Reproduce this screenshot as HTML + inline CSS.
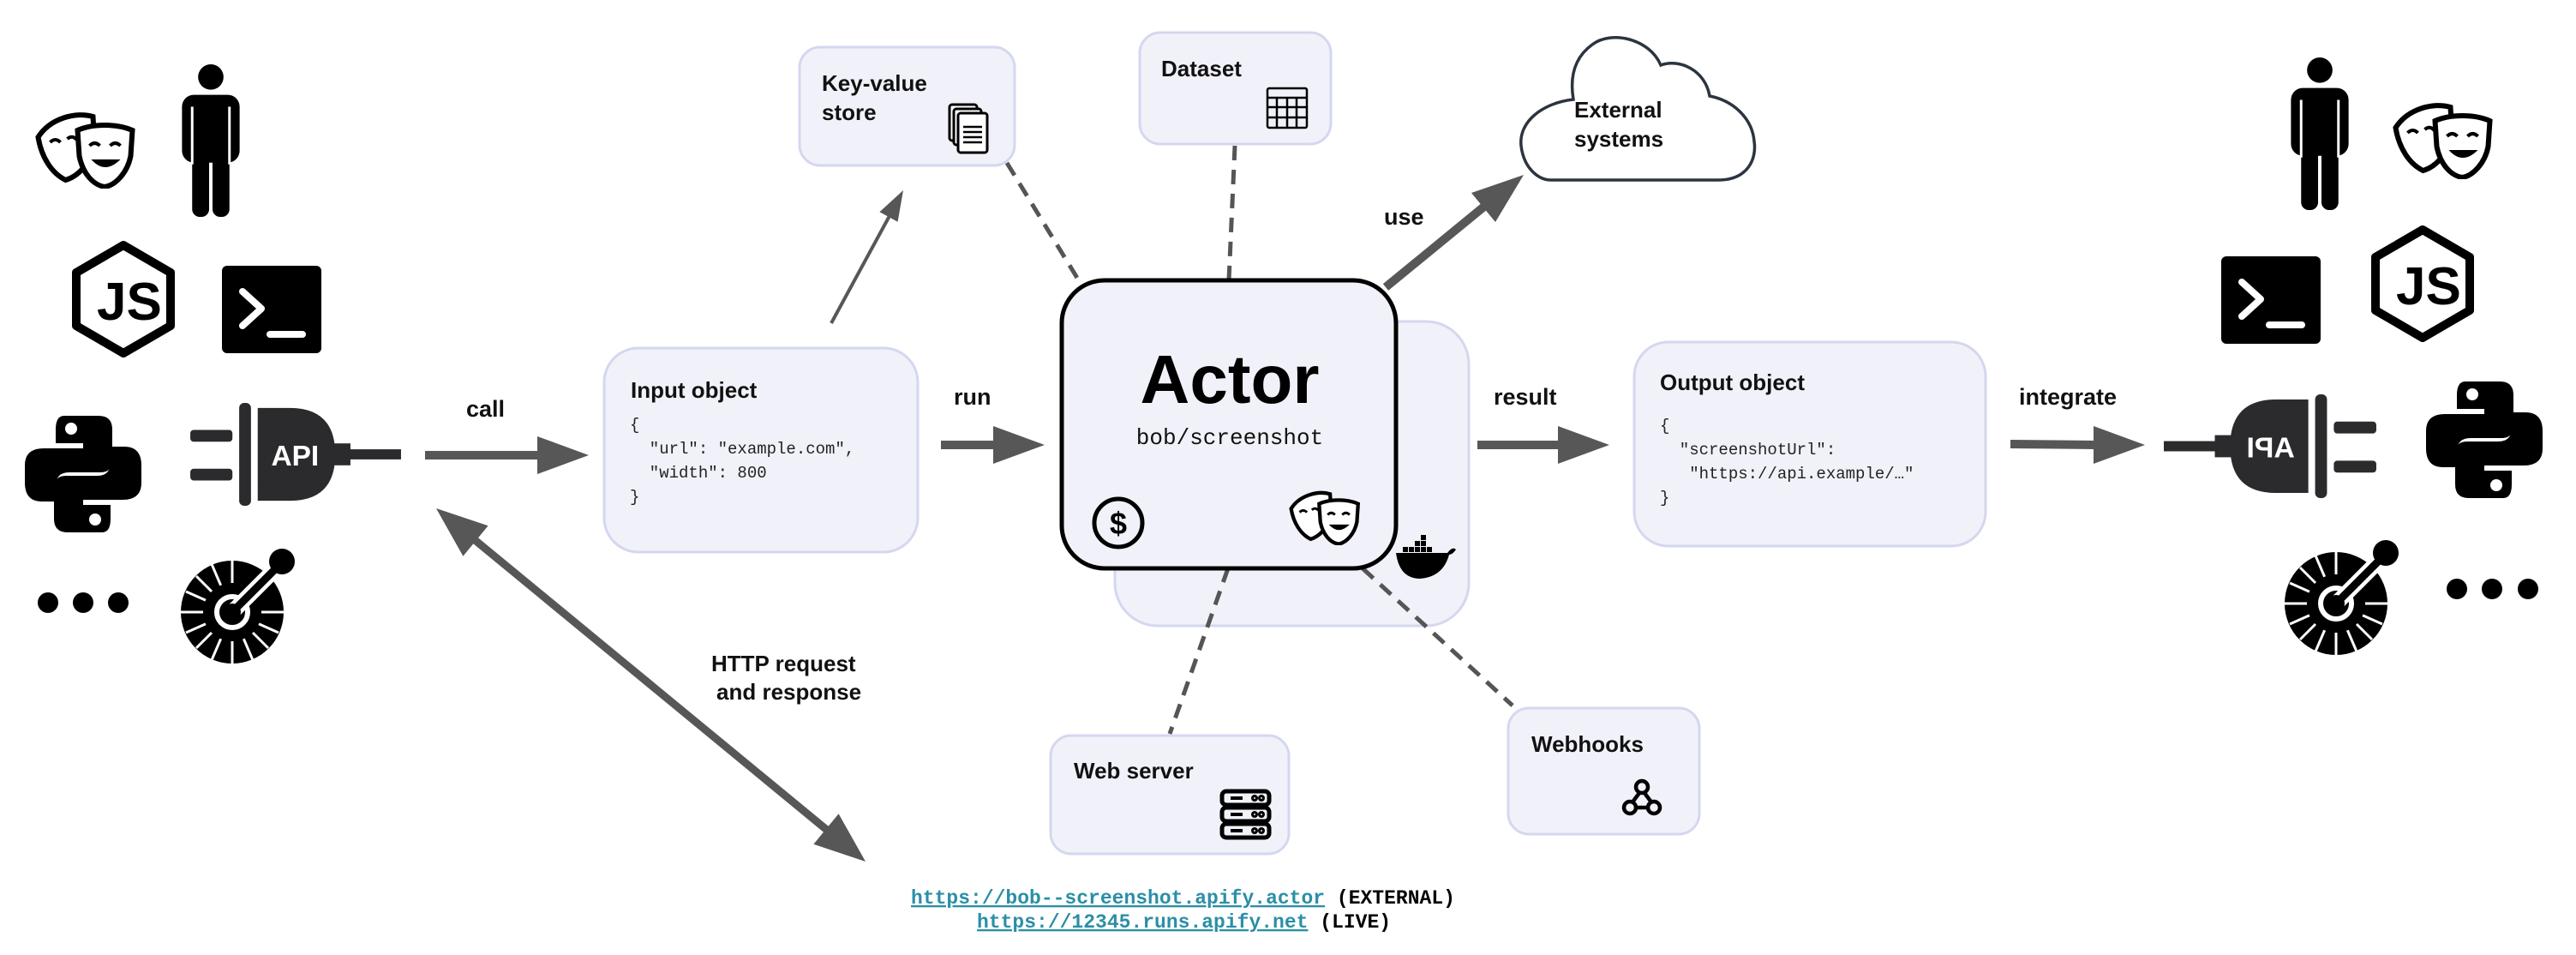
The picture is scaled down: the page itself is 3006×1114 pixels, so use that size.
<!DOCTYPE html>
<html><head><meta charset="utf-8"><style>
html,body{margin:0;padding:0;background:#fff;}
svg{display:block;}
text{font-family:"Liberation Sans",sans-serif;}
.t{font-weight:bold;font-size:27px;fill:#111;}
.c{font-family:"Liberation Mono",monospace;font-size:19px;fill:#222;}
.box{fill:#f1f2f9;stroke:#d4d7ef;stroke-width:3;}
.dash{stroke:#555;stroke-width:5;stroke-dasharray:17 11;fill:none;}
</style></head><body>
<svg width="3006" height="1114" viewBox="0 0 3006 1114" xmlns="http://www.w3.org/2000/svg">
<defs>
<symbol id="masks" viewBox="0 0 120 90">
 <path d="M6,30 C20,8 50,0 70,6 L72,40 C66,62 52,76 38,80 C22,72 10,54 6,30Z" fill="#fff" stroke="#000" stroke-width="6"/>
 <path d="M20,36 q6,-6 12,0 M40,32 q6,-5 11,1" stroke="#000" stroke-width="4" fill="none"/>
 <path d="M52,22 C70,14 98,14 116,22 L114,52 C110,72 96,86 84,88 C70,86 58,72 54,52Z" fill="#fff" stroke="#000" stroke-width="6"/>
 <path d="M66,40 q6,-6 12,0 M90,40 q6,-6 12,0" stroke="#000" stroke-width="4" fill="none"/>
 <path d="M68,56 Q84,74 102,56 Z" fill="#000"/>
</symbol>
<symbol id="person" viewBox="0 0 72 180">
 <circle cx="36" cy="15" r="15" fill="#000"/>
 <rect x="2" y="36" width="68" height="80" rx="14" fill="#000"/>
 <rect x="14" y="70" width="20" height="110" rx="9" fill="#000"/>
 <rect x="38" y="70" width="20" height="110" rx="9" fill="#000"/>
 <path d="M14,50 V118 M58,50 V118 M36,120 V175" stroke="#fff" stroke-width="3"/>
</symbol>
<symbol id="js" viewBox="0 0 122 136">
 <polygon points="61,5 116,37 116,99 61,131 6,99 6,37" fill="none" stroke="#000" stroke-width="10" stroke-linejoin="round"/>
 <text x="30" y="92" style="font-weight:bold;font-size:62px;fill:#000">JS</text>
</symbol>
<symbol id="term" viewBox="0 0 116 102">
 <rect x="0" y="0" width="116" height="102" rx="6" fill="#000"/>
 <polyline points="24,30 46,50 24,70" fill="none" stroke="#fff" stroke-width="8" stroke-linecap="round" stroke-linejoin="round"/>
 <line x1="56" y1="80" x2="94" y2="80" stroke="#fff" stroke-width="8" stroke-linecap="round"/>
</symbol>
<symbol id="py" viewBox="0 0 136 136">
 <g id="pyh">
 <path d="M46,0 H86 Q102,0 102,16 V52 Q102,66 88,66 H52 Q36,66 36,82 V100 H20 Q0,100 0,78 V58 Q0,38 22,38 H68 V32 H36 V16 Q36,0 46,0Z" fill="#000"/>
 <circle cx="54" cy="15" r="7" fill="#fff"/>
 </g>
 <use href="#pyh" transform="rotate(180 68 68)"/>
</symbol>
<symbol id="plug" viewBox="0 0 250 122">
 <rect x="0" y="32" width="50" height="14" rx="4" fill="#2b2b2e"/>
 <rect x="0" y="78" width="50" height="14" rx="4" fill="#2b2b2e"/>
 <rect x="58" y="0" width="14" height="122" rx="6" fill="#2b2b2e"/>
 <path d="M80,6 H118 Q172,6 172,61 Q172,116 118,116 H80Z" fill="#2b2b2e"/>
 <rect x="170" y="48" width="20" height="26" fill="#2b2b2e"/>
 <rect x="188" y="55" width="62" height="12" fill="#2b2b2e"/>
 <text x="96" y="74" style="font-weight:bold;font-size:34px;fill:#fff">API</text>
</symbol>
<symbol id="oapi" viewBox="0 0 140 140">
 <circle cx="62" cy="80" r="60" fill="#000"/>
 <g stroke="#fff" stroke-width="3">
  <line x1="62" y1="80" x2="62" y2="18"/><line x1="62" y1="80" x2="2" y2="80"/><line x1="62" y1="80" x2="62" y2="142"/><line x1="62" y1="80" x2="122" y2="80"/>
  <line x1="62" y1="80" x2="20" y2="38"/><line x1="62" y1="80" x2="20" y2="122"/><line x1="62" y1="80" x2="104" y2="122"/>
  <line x1="62" y1="80" x2="38" y2="24"/><line x1="62" y1="80" x2="8" y2="56"/><line x1="62" y1="80" x2="8" y2="104"/><line x1="62" y1="80" x2="38" y2="136"/><line x1="62" y1="80" x2="86" y2="136"/><line x1="62" y1="80" x2="116" y2="104"/>
 </g>
 <circle cx="62" cy="80" r="34" fill="#000"/>
 <circle cx="62" cy="80" r="18" fill="#000" stroke="#fff" stroke-width="6"/>
 <line x1="62" y1="80" x2="118" y2="24" stroke="#fff" stroke-width="18"/>
 <line x1="62" y1="80" x2="118" y2="24" stroke="#000" stroke-width="9"/>
 <circle cx="62" cy="80" r="10" fill="#000"/>
 <circle cx="120" cy="21" r="15" fill="#000"/>
</symbol>
</defs>

<!-- left icons -->
<use href="#masks" x="38" y="130" width="121" height="90"/>
<use href="#person" x="210" y="75" width="72" height="178"/>
<use href="#js" x="83" y="281" width="122" height="136"/>
<use href="#term" x="259" y="310" width="116" height="102"/>
<use href="#py" x="29" y="485" width="136" height="136"/>
<use href="#plug" x="220" y="470" width="250" height="120"/>
<circle cx="56" cy="703" r="12"/><circle cx="97" cy="703" r="12"/><circle cx="138" cy="703" r="12"/>
<use href="#oapi" x="209" y="634" width="140" height="140"/>

<!-- right icons -->
<use href="#person" x="2671" y="67" width="72" height="178"/>
<use href="#masks" x="2789" y="119" width="121" height="90"/>
<use href="#term" x="2592" y="299" width="116" height="102"/>
<use href="#js" x="2766" y="263" width="122" height="136"/>
<g transform="translate(2774,460) scale(-1,1)"><use href="#plug" x="0" y="0" width="250" height="121"/></g>
<use href="#py" x="2831" y="445" width="136" height="136"/>
<use href="#oapi" x="2664" y="624" width="140" height="140"/>
<circle cx="2867" cy="687" r="12"/><circle cx="2908" cy="687" r="12"/><circle cx="2950" cy="687" r="12"/>

<!-- boxes -->
<rect class="box" x="933" y="55" width="251" height="138" rx="24"/>
<text class="t" x="959" y="106" style="font-size:26px">Key-value</text>
<text class="t" x="959" y="140" style="font-size:26px">store</text>
<g transform="translate(1108,122)" fill="#fff" stroke="#000" stroke-width="3">
 <rect x="0" y="0" width="32" height="42" rx="3"/><rect x="5" y="5" width="32" height="42" rx="3"/><rect x="10" y="10" width="34" height="46" rx="3"/>
 <path d="M16,26 H38 M16,32 H38 M16,38 H38 M16,44 H38" stroke-width="2.5"/>
</g>

<rect class="box" x="1330" y="38" width="223" height="130" rx="24"/>
<text class="t" x="1355" y="89" style="font-size:26px">Dataset</text>
<g transform="translate(1479,103)" fill="none" stroke="#000" stroke-width="2.5">
 <rect x="0" y="0" width="46" height="46" rx="2"/>
 <path d="M0,11 H46 M0,22 H46 M0,34 H46 M11,11 V46 M23,11 V46 M34,11 V46"/>
</g>

<path d="M1810,210 L2005,210 C2040,210 2050,185 2047,165 C2045,140 2025,118 1995,112 C1990,82 1960,68 1938,76 C1925,45 1880,35 1858,52 C1836,68 1832,92 1836,116 C1800,120 1772,142 1775,170 C1778,196 1795,210 1810,210 Z" fill="#fff" stroke="#2c3440" stroke-width="3.5"/>
<text class="t" x="1837" y="137" style="font-size:26px">External</text>
<text class="t" x="1837" y="171" style="font-size:26px">systems</text>

<rect class="box" x="705" y="406" width="366" height="238" rx="40"/>
<text class="t" x="736" y="464" style="font-size:26px">Input object</text>
<text class="c" x="735" y="501">{</text>
<text class="c" x="735" y="529" xml:space="preserve">  "url": "example.com",</text>
<text class="c" x="735" y="557" xml:space="preserve">  "width": 800</text>
<text class="c" x="735" y="585">}</text>

<rect class="box" x="1301" y="375" width="413" height="355" rx="50"/>

<!-- dashed connectors -->
<line class="dash" x1="1175" y1="190" x2="1263" y2="334"/>
<line class="dash" x1="1441" y1="170" x2="1434" y2="327"/>
<line class="dash" x1="1433" y1="663" x2="1365" y2="856"/>
<line class="dash" x1="1590" y1="663" x2="1765" y2="823"/>

<rect x="1239" y="327" width="390" height="336" rx="50" fill="#f1f2f9" stroke="#000" stroke-width="5"/>
<text x="1435" y="470" text-anchor="middle" style="font-weight:bold;font-size:80px;fill:#000">Actor</text>
<text x="1435" y="518" text-anchor="middle" style="font-family:'Liberation Mono',monospace;font-size:26px;fill:#111">bob/screenshot</text>
<circle cx="1305" cy="610" r="28" fill="none" stroke="#000" stroke-width="5"/>
<text x="1305" y="623" text-anchor="middle" style="font-weight:bold;font-size:36px;fill:#000">$</text>
<use href="#masks" x="1502" y="572" width="86" height="64"/>
<g transform="translate(1629,625)" fill="#000">
 <path d="M0,20 H60 Q66,12 70,16 Q66,22 62,22 Q55,48 28,50 Q4,50 0,20Z"/>
 <rect x="8" y="13" width="6" height="6"/><rect x="15" y="13" width="6" height="6"/><rect x="22" y="13" width="6" height="6"/><rect x="29" y="13" width="6" height="6"/><rect x="36" y="13" width="6" height="6"/>
 <rect x="22" y="6" width="6" height="6"/><rect x="29" y="6" width="6" height="6"/><rect x="29" y="-1" width="6" height="6"/>
</g>

<rect class="box" x="1907" y="399" width="410" height="238" rx="40"/>
<text class="t" x="1937" y="455" style="font-size:26px">Output object</text>
<text class="c" x="1937" y="502">{</text>
<text class="c" x="1937" y="530" xml:space="preserve">  "screenshotUrl":</text>
<text class="c" x="1937" y="558" xml:space="preserve">   "https://api.example/…"</text>
<text class="c" x="1937" y="586">}</text>

<rect class="box" x="1226" y="858" width="278" height="138" rx="24"/>
<text class="t" x="1253" y="908" style="font-size:26px">Web server</text>
<g transform="translate(1424,921)" fill="none" stroke="#000" stroke-width="5">
 <rect x="2" y="2" width="55" height="16" rx="5"/><rect x="2" y="21" width="55" height="16" rx="5"/><rect x="2" y="40" width="55" height="16" rx="5"/>
 <path d="M12,10 H26 M12,29 H26 M12,48 H26" stroke-width="4"/>
 <circle cx="40" cy="10" r="1.5"/><circle cx="48" cy="10" r="1.5"/><circle cx="40" cy="29" r="1.5"/><circle cx="48" cy="29" r="1.5"/><circle cx="40" cy="48" r="1.5"/><circle cx="48" cy="48" r="1.5"/>
</g>

<rect class="box" x="1760" y="826" width="223" height="147" rx="24"/>
<text class="t" x="1787" y="877" style="font-size:26px">Webhooks</text>
<g transform="translate(1893,909)" fill="none" stroke="#000" stroke-width="4.5">
 <circle cx="23" cy="9" r="7"/><circle cx="9" cy="33" r="7"/><circle cx="37" cy="33" r="7"/>
 <path d="M20,16 L11,28 M16,33 H30 M26,16 L35,28"/>
</g>

<!-- arrows -->
<g fill="#575757" stroke="#575757">
 <line x1="496" y1="531" x2="630" y2="531" stroke-width="10"/>
 <polygon points="627,509 687,531 627,553" stroke="none"/>
 <line x1="1098" y1="519" x2="1162" y2="519" stroke-width="10"/>
 <polygon points="1159,497 1219,519 1159,541" stroke="none"/>
 <line x1="1724" y1="519" x2="1821" y2="519" stroke-width="10"/>
 <polygon points="1818,497 1878,519 1818,541" stroke="none"/>
 <line x1="2346" y1="518" x2="2446" y2="519" stroke-width="10"/>
 <polygon points="2443,497 2503,519 2443,541" stroke="none"/>
 <line x1="970" y1="377" x2="1039" y2="250" stroke-width="4"/>
 <polygon points="1054,222 1047.6,258.7 1026.4,247.3" stroke="none"/>
 <line x1="1617" y1="335" x2="1733" y2="240" stroke-width="10"/>
 <polygon points="1778,204 1745,259 1717,225" stroke="none"/>
 <line x1="553" y1="629" x2="966" y2="969" stroke-width="9"/>
 <polygon points="1010,1005 949.4,984.8 978.6,949.2" stroke="none"/>
 <polygon points="509,593 540.4,648.8 569.6,613.2" stroke="none"/>
</g>

<!-- labels -->
<text class="t" x="544" y="486">call</text>
<text class="t" x="1113" y="472">run</text>
<text class="t" x="1615" y="262">use</text>
<text class="t" x="1743" y="472">result</text>
<text class="t" x="2356" y="472">integrate</text>
<text class="t" x="830" y="783" style="font-size:26px">HTTP request</text>
<text class="t" x="836" y="816" style="font-size:26px">and  response</text>

<text x="1063" y="1054" xml:space="preserve" style="font-family:'Liberation Mono',monospace;font-size:23px;font-weight:bold"><tspan fill="#2a8fa6" text-decoration="underline">https://bob--screenshot.apify.actor</tspan><tspan fill="#000"> (EXTERNAL)</tspan></text>
<text x="1140" y="1082" xml:space="preserve" style="font-family:'Liberation Mono',monospace;font-size:23px;font-weight:bold"><tspan fill="#2a8fa6" text-decoration="underline">https://12345.runs.apify.net</tspan><tspan fill="#000"> (LIVE)</tspan></text>
</svg>
</body></html>
